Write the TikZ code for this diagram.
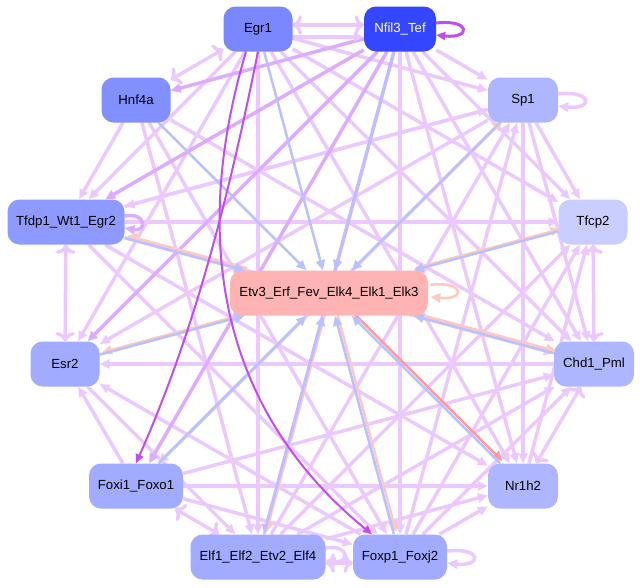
\documentclass[tikz,border=0pt]{standalone}
\usepackage{fontspec}
\setmainfont{Liberation Sans}
\usepackage{xcolor}
\usepackage{tikz}
\usetikzlibrary{arrows.meta,backgrounds}

\definecolor{lav}{HTML}{EBC9FF}
\definecolor{lavd}{HTML}{DDABFF}
\definecolor{purp}{HTML}{C04CF2}
\definecolor{blu}{HTML}{B9C1FF}
\definecolor{sal}{HTML}{FFC9C1}
\definecolor{redd}{HTML}{FF9A9A}
\definecolor{cEgr}{HTML}{7A87FF}
\definecolor{cNfil}{HTML}{3446FF}
\definecolor{cHnf}{HTML}{818FFF}
\definecolor{cSp}{HTML}{AEB6FF}
\definecolor{cTfdp}{HTML}{8E9AFF}
\definecolor{cTfcp}{HTML}{C9CDFF}
\definecolor{cEtv}{HTML}{FFB3B3}
\definecolor{cMid}{HTML}{A1ABFF}

\begin{document}
\begin{tikzpicture}[x=1pt,y=-1pt,
  tf/.style={rectangle,rounded corners=12pt,minimum height=45pt,inner xsep=5pt,
    font=\fontsize{13.2}{15}\selectfont},
  ed/.style={draw=lav,line width=3.5pt,-{Triangle[length=10pt,width=9pt]}},
  edk/.style={ed,draw=lavd},
  edb/.style={ed,<->},
  tob/.style={draw=blu,line width=2.5pt,-{Triangle[length=10pt,width=9pt]}},
  tos/.style={tob,draw=sal,transform canvas={shift={(2.2pt,2.2pt)}}},
  str/.style={draw=purp,line width=2pt,-{Triangle[length=9pt,width=8pt]}}]

\useasboundingbox (0,0) rectangle (640,587);

\node[tf,fill=cEgr,minimum width=69pt] (egr) at (258,29) {Egr1};
\node[tf,fill=cNfil,text=white,minimum width=72pt] (nfil) at (400,29) {Nfil3\_Tef};
\node[tf,fill=cHnf,minimum width=69pt] (hnf) at (136,100) {Hnf4a};
\node[tf,fill=cSp,minimum width=70pt] (spa) at (523,100) {Sp1};
\node[tf,fill=cTfdp,minimum width=117pt] (tfdp) at (66,222) {Tfdp1\_Wt1\_Egr2};
\node[tf,fill=cTfcp,minimum width=69pt] (tfcp) at (593,222) {Tfcp2};
\node[tf,fill=cEtv,minimum width=198pt] (etv) at (329,293) {Etv3\_Erf\_Fev\_Elk4\_Elk1\_Elk3};
\node[tf,fill=cMid,minimum width=69pt] (esr) at (65,364) {Esr2};
\node[tf,fill=cSp,minimum width=80pt] (chd) at (594,364) {Chd1\_Pml};
\node[tf,fill=cMid,minimum width=94pt] (foxi) at (136,486) {Foxi1\_Foxo1};
\node[tf,fill=cSp,minimum width=70pt] (nrh) at (523,486) {Nr1h2};
\node[tf,fill=cMid,minimum width=135pt] (elf) at (258,557) {Elf1\_Elf2\_Etv2\_Elf4};
\node[tf,fill=cMid,minimum width=94pt] (foxp) at (400,557) {Foxp1\_Foxj2};

\begin{pgfonlayer}{background}
\foreach \a/\b in {egr/spa,egr/tfdp,egr/esr,egr/elf,egr/chd,egr/nrh,egr/tfcp,
    nfil/foxp,nfil/nrh,nfil/chd,nfil/tfcp,nfil/spa,
    hnf/tfdp,hnf/elf,hnf/chd,hnf/foxp,
    spa/tfdp,spa/esr,spa/foxi,spa/nrh,spa/chd,spa/tfcp,elf/spa,foxp/spa,
    tfdp/tfcp,tfdp/chd,tfdp/nrh,tfdp/foxp,tfdp/spa,
    chd/esr,foxp/esr,esr/elf,foxi/esr,
    foxi/nrh,foxi/foxp,foxi/chd,
    elf/chd,elf/nrh,elf/tfcp,
    foxp/chd,foxp/nrh,foxp/tfcp,nrh/tfcp}
  \draw[ed] (\a) -- (\b);
\foreach \a/\b in {nfil/hnf,nfil/tfdp,nfil/esr,nfil/foxi,nfil/elf}
  \draw[edk] (\a) -- (\b);
\foreach \a/\b in {egr/hnf,tfdp/esr,foxi/elf,chd/tfcp,chd/nrh}
  \draw[edb] (\a) -- (\b);
\draw[edb] ([yshift=4pt]egr.east) -- ([yshift=4pt]nfil.west);
\draw[ed] ([yshift=-8pt]egr.east) -- ([yshift=-8pt]nfil.west);
\draw[edb] ([yshift=-6pt]elf.east) -- ([yshift=-6pt]foxp.west);

% loops
\draw[ed] ([yshift=6pt]spa.east) .. controls +(35pt,4pt) and +(35pt,-4pt) .. ([yshift=-6pt]spa.east);
\draw[edk] ([yshift=6pt]tfdp.east) .. controls +(22pt,4pt) and +(22pt,-4pt) .. ([yshift=-6pt]tfdp.east);
\draw[ed] ([yshift=9pt]elf.east) .. controls +(24pt,4pt) and +(24pt,-4pt) .. ([yshift=-3pt]elf.east);
\draw[ed] ([yshift=6pt]foxp.east) .. controls +(35pt,4pt) and +(35pt,-4pt) .. ([yshift=-6pt]foxp.east);
\draw[tos,transform canvas={}] ([yshift=6pt]etv.east) .. controls +(35pt,4pt) and +(35pt,-4pt) .. ([yshift=-6pt]etv.east);

% into the Etv3 node
\foreach \a in {egr,nfil,hnf,foxi}
  \draw[tob] (\a) -- (etv);
\foreach \a in {tfdp,esr,spa,tfcp,chd,elf,foxp} {
  \draw[tos] (etv) -- (\a);
  \draw[tob] (\a) -- (etv);
}
\draw[tos,draw=redd] (etv) -- (nrh);
\draw[tob] (nrh) -- (etv);

\draw[str] (egr.south) .. controls (228,200) and (195,330) .. (foxi.north);
\draw[str] ([xshift=-12pt]egr.south) .. controls (190,240) and (220,410) .. ([xshift=-28pt]foxp.north);
\draw[str,line width=3pt] ([yshift=6pt]nfil.east) .. controls +(35pt,4pt) and +(35pt,-4pt) .. ([yshift=-6pt]nfil.east);
\end{pgfonlayer}
\end{tikzpicture}
\end{document}
